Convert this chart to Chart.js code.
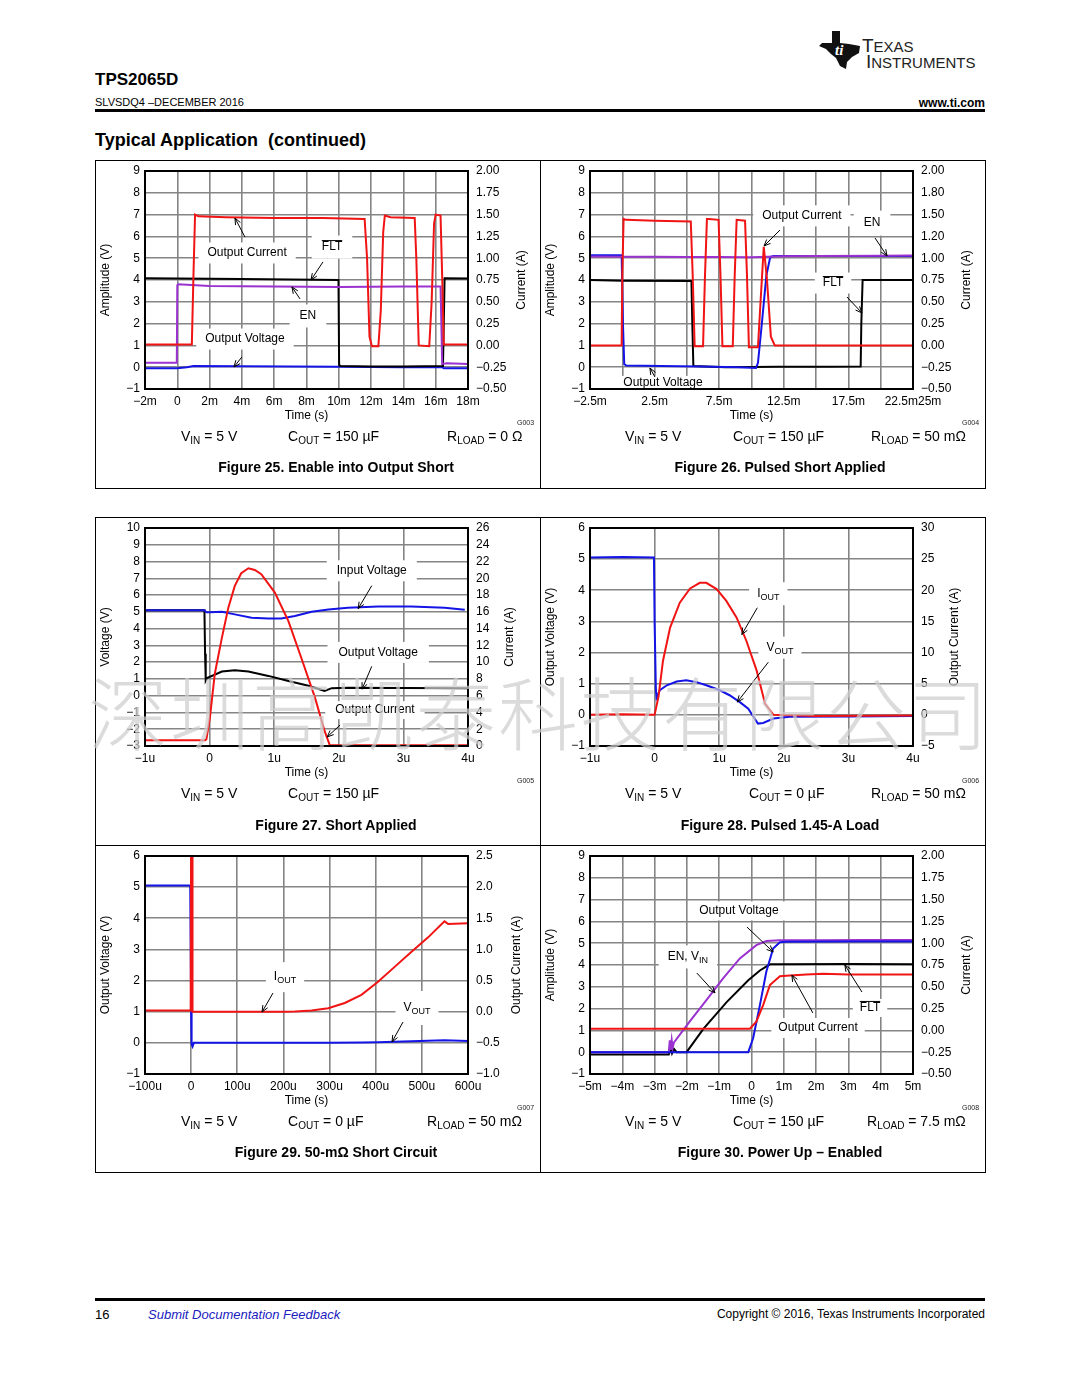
<!DOCTYPE html>
<html>
<head>
<meta charset="utf-8">
<title>TPS2065D - Typical Application (continued)</title>
<script src="https://cdn.jsdelivr.net/npm/chart.js@4.4.1/dist/chart.umd.min.js"></script>
<style>
  body { margin: 0; background: #fff; color: #000; font-family: "Liberation Sans", Arial, sans-serif; }
  #page { position: relative; width: 1080px; height: 1398px; overflow: hidden; background: #fff; }
  .t { position: absolute; white-space: nowrap; line-height: 1; }
  canvas { position: absolute; }
  .frame { position: absolute; border: 1px solid #000; box-sizing: border-box; }
  .rule { position: absolute; background: #000; }
  .cond { font-size: 14px; }
  .cond sub { font-size: 10px; vertical-align: -3px; line-height: 0; }
  .fig { font-size: 14px; font-weight: bold; width: 440px; text-align: center; }
  .gcode { font-size: 7px; color: #222; }
  #mark { position: absolute; left: 88px; top: 669px; font-family: "Noto Sans CJK SC", sans-serif; font-weight: 300;
          font-size: 80px; line-height: 80px; letter-spacing: 2px; color: rgba(205,205,205,0.72); white-space: nowrap; z-index: 5; }
</style>
</head>
<body>
<div id="page">
  <!-- header -->
  <svg class="t" style="left:819px;top:31px" width="42" height="38" viewBox="0 0 42 38">
    <polygon points="13,0 21,0 21,12 30,13 41,15 40,22 33,26 28,31 27,38 21,35 17,27 12,23 7,18 0,15 3,12 13,12" fill="#111"/>
    <text x="16" y="24" font-family="Liberation Serif, serif" font-style="italic" font-weight="bold" font-size="15" fill="#fff">ti</text>
  </svg>
  <div class="t" style="left:862px;top:36px;font-size:19px;color:#222">T<span style="font-size:15px">EXAS</span></div>
  <div class="t" style="left:866px;top:52px;font-size:19px;color:#222">I<span style="font-size:15px">NSTRUMENTS</span></div>
  <div class="t" style="left:95px;top:71px;font-size:17px;font-weight:bold">TPS2065D</div>
  <div class="t" style="left:95px;top:97px;font-size:11px">SLVSDQ4 –DECEMBER 2016</div>
  <div class="t" style="right:95px;top:97px;font-size:12px;font-weight:bold">www.ti.com</div>
  <div class="rule" style="left:95px;top:109px;width:890px;height:3px"></div>
  <div class="t" style="left:95px;top:131px;font-size:18px;font-weight:bold">Typical Application&nbsp; (continued)</div>

  <!-- panel frames -->
  <div class="frame" style="left:95px;top:160px;width:891px;height:329px"></div>
  <div class="rule" style="left:540px;top:160px;width:1px;height:329px"></div>
  <div class="frame" style="left:95px;top:517px;width:891px;height:656px"></div>
  <div class="rule" style="left:95px;top:845px;width:890px;height:1px"></div>
  <div class="rule" style="left:540px;top:517px;width:1px;height:656px"></div>

  <canvas id="c25" width="443" height="270" style="left:96px;top:161px"></canvas>
  <canvas id="c26" width="443" height="270" style="left:541px;top:161px"></canvas>
  <canvas id="c27" width="443" height="270" style="left:96px;top:518px"></canvas>
  <canvas id="c28" width="443" height="270" style="left:541px;top:518px"></canvas>
  <canvas id="c29" width="443" height="270" style="left:96px;top:846px"></canvas>
  <canvas id="c30" width="443" height="270" style="left:541px;top:846px"></canvas>

  <!-- row 1 captions -->
  <div class="t gcode" style="left:517px;top:419px">G003</div>
  <div class="t cond" style="left:181px;top:429px">V<sub>IN</sub> = 5 V</div>
  <div class="t cond" style="left:288px;top:429px">C<sub>OUT</sub> = 150 µF</div>
  <div class="t cond" style="left:447px;top:429px">R<sub>LOAD</sub> = 0 Ω</div>
  <div class="t fig" style="left:116px;top:460px">Figure 25. Enable into Output Short</div>
  <div class="t gcode" style="left:962px;top:419px">G004</div>
  <div class="t cond" style="left:625px;top:429px">V<sub>IN</sub> = 5 V</div>
  <div class="t cond" style="left:733px;top:429px">C<sub>OUT</sub> = 150 µF</div>
  <div class="t cond" style="left:871px;top:429px">R<sub>LOAD</sub> = 50 mΩ</div>
  <div class="t fig" style="left:560px;top:460px">Figure 26. Pulsed Short Applied</div>

  <!-- row 2 captions -->
  <div class="t gcode" style="left:517px;top:777px">G005</div>
  <div class="t cond" style="left:181px;top:786px">V<sub>IN</sub> = 5 V</div>
  <div class="t cond" style="left:288px;top:786px">C<sub>OUT</sub> = 150 µF</div>
  <div class="t fig" style="left:116px;top:818px">Figure 27. Short Applied</div>
  <div class="t gcode" style="left:962px;top:777px">G006</div>
  <div class="t cond" style="left:625px;top:786px">V<sub>IN</sub> = 5 V</div>
  <div class="t cond" style="left:749px;top:786px">C<sub>OUT</sub> = 0 µF</div>
  <div class="t cond" style="left:871px;top:786px">R<sub>LOAD</sub> = 50 mΩ</div>
  <div class="t fig" style="left:560px;top:818px">Figure 28. Pulsed 1.45-A Load</div>

  <!-- row 3 captions -->
  <div class="t gcode" style="left:517px;top:1104px">G007</div>
  <div class="t cond" style="left:181px;top:1114px">V<sub>IN</sub> = 5 V</div>
  <div class="t cond" style="left:288px;top:1114px">C<sub>OUT</sub> = 0 µF</div>
  <div class="t cond" style="left:427px;top:1114px">R<sub>LOAD</sub> = 50 mΩ</div>
  <div class="t fig" style="left:116px;top:1145px">Figure 29. 50-mΩ Short Circuit</div>
  <div class="t gcode" style="left:962px;top:1104px">G008</div>
  <div class="t cond" style="left:625px;top:1114px">V<sub>IN</sub> = 5 V</div>
  <div class="t cond" style="left:733px;top:1114px">C<sub>OUT</sub> = 150 µF</div>
  <div class="t cond" style="left:867px;top:1114px">R<sub>LOAD</sub> = 7.5 mΩ</div>
  <div class="t fig" style="left:560px;top:1145px">Figure 30. Power Up – Enabled</div>

  <!-- footer -->
  <div class="rule" style="left:95px;top:1298px;width:890px;height:3px"></div>
  <div class="t" style="left:95px;top:1308px;font-size:13px">16</div>
  <div class="t" style="left:148px;top:1308px;font-size:13px;font-style:italic;color:#2020c0">Submit Documentation Feedback</div>
  <div class="t" style="right:95px;top:1308px;font-size:12px">Copyright © 2016, Texas Instruments Incorporated</div>

  <div id="mark">深圳高凯泰科技有限公司</div>
</div>

<script>
// ---- Figure 25: enable into output short (time in ms) ----
const fig25TimeTicks = [-2, 0, 2, 4, 6, 8, 10, 12, 14, 16, 18];
const fig25VoltTicks = [-1, 0, 1, 2, 3, 4, 5, 6, 7, 8, 9];
const fig25AmpTicks = [-0.5, -0.25, 0, 0.25, 0.5, 0.75, 1.0, 1.25, 1.5, 1.75, 2.0];
const fig25CurrentTime = [-2, 0.9, 1.0, 1.1, 1.3, 3, 6, 9, 11.6, 11.75, 11.9, 12.05, 12.45, 12.6, 12.75, 12.85, 13.2, 14.7, 14.8, 14.95, 15.6, 15.75, 15.9, 16.0, 16.3, 16.4, 16.5, 18];
const fig25Current = [0.01, 0.01, 0.8, 1.5, 1.48, 1.47, 1.46, 1.46, 1.45, 1.0, 0.1, -0.01, -0.01, 0.4, 1.3, 1.49, 1.47, 1.46, 1.0, 0.0, -0.01, 0.5, 1.4, 1.5, 1.49, 0.8, 0.01, 0.01];
const fig25FltTime = [-2, 4, 9.98, 10.02, 10.1, 12, 14, 16.45, 16.5, 16.55, 18];
const fig25Flt = [4.08, 4.05, 4.0, 0.1, 0.06, 0.03, 0.03, 0.05, 2.0, 4.08, 4.07];
const fig25EnTime = [-2, -0.03, 0.0, 0.05, 2, 6, 10, 14, 16.3, 16.35, 16.4, 16.7, 18];
const fig25En = [0.2, 0.2, 3.75, 3.8, 3.72, 3.7, 3.68, 3.7, 3.7, 2.0, 0.15, 0.18, 0.15];
const fig25VoutTime = [-2, 0, 0.6, 1.0, 4, 10, 14, 16.4, 16.5, 18];
const fig25Vout = [-0.05, -0.05, 0.0, 0.05, 0.04, 0.02, 0.0, 0.0, -0.05, -0.05];

// ---- Figure 26: pulsed short applied (ms) ----
const fig26TimeTicks = [-2.5, 0, 2.5, 5, 7.5, 10, 12.5, 15, 17.5, 20, 22.5];
const fig26TimeLabels = ['\u22122.5m', '', '2.5m', '', '7.5m', '', '12.5m', '', '17.5m', '', '22.5m25m'];
const fig26AmpLabels = ['\u22120.50', '\u22120.25', '0.00', '0.25', '0.50', '0.75', '1.00', '1.20', '1.50', '1.80', '2.00'];
const fig26CurrentTime = [-2.5, -0.05, 0.0, 0.1, 0.3, 2.5, 5.3, 5.45, 5.6, 6.25, 6.4, 6.55, 6.7, 7.45, 7.6, 7.75, 8.55, 8.7, 8.85, 9.5, 9.65, 9.8, 10.5, 10.7, 10.95, 11.2, 11.5, 11.8, 15, 22.5];
const fig26Current = [0, 0, 0.8, 1.45, 1.44, 1.43, 1.42, 0.8, -0.01, -0.01, 0.8, 1.45, 1.45, 1.44, 0.8, -0.01, -0.01, 0.8, 1.44, 1.43, 0.8, -0.02, -0.02, 0.5, 1.13, 0.75, 0.1, 0, 0, 0];
const fig26VoutTime = [-2.5, -0.05, 0.05, 0.15, 0.3, 3, 6, 9, 10.35, 10.5, 10.8, 11.15, 11.45, 11.7, 22.5];
const fig26Vout = [5.14, 5.14, 2.0, 0.15, 0.08, 0.05, 0.03, 0.0, -0.04, 0.2, 2.0, 4.2, 5.05, 5.1, 5.1];
const fig26EnTime = [-2.5, 0, 2.5, 5, 7.5, 10, 12.5, 15, 20, 22.5];
const fig26En = [5.08, 5.07, 5.07, 5.06, 5.05, 5.04, 5.09, 5.1, 5.11, 5.12];
const fig26FltTime = [-2.5, 0, 5.35, 5.42, 5.5, 8, 12, 16, 18.45, 18.5, 18.6, 22.5];
const fig26Flt = [4.0, 3.97, 3.95, 2.0, 0.05, 0.0, 0.02, 0.02, 0.03, 2.0, 4.0, 4.0];

// ---- Figure 27: short applied (µs) ----
const fig27TimeTicks = [-1, 0, 1, 2, 3, 4];
const fig27VoltTicks = [-3, -2, -1, 0, 1, 2, 3, 4, 5, 6, 7, 8, 9, 10];
const fig27AmpTicks = [0, 2, 4, 6, 8, 10, 12, 14, 16, 18, 20, 22, 24, 26];
const fig27VinTime = [-1, -0.08, -0.05, 0, 0.19, 0.39, 0.65, 0.91, 1.11, 1.32, 1.58, 1.84, 2.14, 2.61, 3.12, 3.64, 3.95];
const fig27Vin = [5.1, 5.1, 4.97, 4.97, 5.0, 4.85, 4.65, 4.6, 4.6, 4.75, 5.0, 5.14, 5.24, 5.32, 5.32, 5.24, 5.12];
const fig27VoutTime = [-1, -0.08, -0.07, -0.06, -0.04, 0.19, 0.39, 0.60, 0.91, 1.22, 1.53, 1.78, 1.89, 2.14, 3.0, 4.0];
const fig27Vout = [5.1, 5.1, 2.5, 0.9, 1.05, 1.44, 1.52, 1.44, 1.18, 0.88, 0.59, 0.29, 0.45, 0.47, 0.46, 0.45];
const fig27CurrentTime = [-1, -0.07, -0.05, 0.005, 0.08, 0.19, 0.29, 0.39, 0.49, 0.60, 0.70, 0.80, 1.01, 1.22, 1.42, 1.63, 1.78, 1.86, 2.0, 4.0];
const fig27Current = [0.7, 0.7, 0.8, 3.4, 8.6, 12.9, 16.5, 19.1, 20.6, 21.2, 21.0, 20.5, 18.3, 14.9, 10.5, 5.8, 1.8, 0.1, 0.1, 0.1];

// ---- Figure 28: pulsed 1.45-A load (µs) ----
const fig28TimeTicks = [-1, 0, 1, 2, 3, 4];
const fig28VoltTicks = [-1, 0, 1, 2, 3, 4, 5, 6];
const fig28AmpTicks = [-5, 0, 5, 10, 15, 20, 25, 30];
const fig28VoutTime = [-1, -0.5, -0.01, 0.0, 0.02, 0.03, 0.08, 0.19, 0.34, 0.49, 0.65, 0.80, 1.01, 1.16, 1.32, 1.45, 1.53, 1.60, 1.68, 1.84, 2.09, 3.0, 4.0];
const fig28Vout = [5.05, 5.07, 5.05, 3.0, 0.8, 0.55, 0.79, 0.95, 1.07, 1.11, 1.05, 0.95, 0.79, 0.63, 0.41, 0.20, -0.06, -0.28, -0.26, -0.12, -0.06, -0.05, -0.04];
const fig28CurrentTime = [-1, -0.5, 0.0, 0.06, 0.13, 0.24, 0.39, 0.55, 0.70, 0.80, 0.96, 1.11, 1.27, 1.42, 1.58, 1.71, 1.84, 2.5, 4.0];
const fig28Current = [0, 0.1, 0, 2.9, 8.7, 14.0, 18.0, 20.3, 21.2, 21.2, 20.2, 18.3, 15.6, 11.9, 7.1, 1.8, 0, -0.2, -0.1];

// ---- Figure 29: 50-mΩ short circuit (µs) ----
const fig29TimeTicks = [-100, 0, 100, 200, 300, 400, 500, 600];
const fig29VoltTicks = [-1, 0, 1, 2, 3, 4, 5, 6];
const fig29AmpTicks = [-1.0, -0.5, 0, 0.5, 1.0, 1.5, 2.0, 2.5];
const fig29VoutTime = [-100, -2, 0, 1, 3, 6, 100, 200, 300, 369, 405, 477, 549, 600];
const fig29Vout = [5.05, 5.05, 1.0, -0.05, -0.12, 0.0, 0.0, 0.0, 0.0, 0.01, 0.02, 0.05, 0.08, 0.06];
const fig29CurrentTime = [-100, -1, 0, 2, 3, 5, 100, 200, 225, 261, 297, 333, 369, 405, 441, 477, 513, 549, 557, 600];
const fig29Current = [0.02, 0.02, 3, 3, 0, 0, 0, 0, 0.003, 0.02, 0.055, 0.14, 0.27, 0.48, 0.72, 0.96, 1.19, 1.45, 1.41, 1.42];

// ---- Figure 30: power up, enabled (ms) ----
const fig30TimeTicks = [-5, -4, -3, -2, -1, 0, 1, 2, 3, 4, 5];
const fig30EnTime = [-5, -2.56, -2.53, -2.5, -2.47, -2.44, -2.4, -1.91, -1.39, -0.88, -0.36, 0.15, 0.46, 0.88, 2, 3.5, 5];
const fig30En = [0, 0, 0.55, 0.1, 0.55, 0.2, 0.45, 1.41, 2.4, 3.39, 4.30, 4.91, 5.1, 5.14, 5.13, 5.15, 5.15];
const fig30FltTime = [-5, -2.56, -2.5, -2.46, -2.4, -2.32, -2.01, -1.49, -0.77, -0.1, 0.26, 0.57, 1.0, 3.0, 5.0];
const fig30Flt = [-0.1, -0.1, 0.2, -0.05, 0.15, 0.0, 0.0, 1.07, 2.3, 3.3, 3.75, 4.03, 4.03, 4.05, 4.03];
const fig30VoutTime = [-5, -0.1, 0.05, 0.26, 0.46, 0.67, 0.88, 1.08, 3, 5];
const fig30Vout = [0, 0, 0.64, 2.16, 3.7, 4.76, 5.04, 5.07, 5.08, 5.08];
const fig30CurrentTime = [-5, -0.05, 0.15, 0.36, 0.57, 0.88, 1.19, 1.70, 2.22, 3.0, 4.0, 5.0];
const fig30Current = [0.02, 0.02, 0.10, 0.29, 0.52, 0.62, 0.63, 0.64, 0.65, 0.64, 0.64, 0.64];

const RED = '#f01414', BLUE = '#1414e6', PURPLE = '#9a32cf', BLACK = '#000';
const GRID = '#858585';
const FONT = '"Liberation Sans", Arial, Helvetica, sans-serif';
const MINUS = '\u2212';

Chart.defaults.font.family = FONT;
Chart.defaults.font.size = 12;
Chart.defaults.color = '#000';

const signed = (v, d) => (v < 0 ? MINUS : '') + (d == null ? String(Math.abs(v)) : Math.abs(v).toFixed(d));
const timeLabels = (ticks, unit) => ticks.map(v => v === 0 ? '0' : signed(v) + unit);

// labels with white boxes, arrows, plot frame, and both side titles
const notesPlugin = {
  id: 'notes',
  beforeDatasetsDraw(chart, args, opts) {
    const { ctx, scales: { x, y } } = chart;
    ctx.save();
    for (const n of opts.items || []) {
      ctx.font = '12px ' + FONT;
      const mw = ctx.measureText(n.text).width;
      ctx.font = '9px ' + FONT;
      const sw = n.sub ? ctx.measureText(n.sub).width : 0;
      const w = mw + sw;
      const cx = x.getPixelForValue(n.x), cy = y.getPixelForValue(n.y);
      const pw = n.pw ?? 9, h = n.h ?? 21;
      ctx.fillStyle = '#fff';
      ctx.fillRect(cx - w / 2 - pw, cy - h / 2, w + 2 * pw, h);
      ctx.fillStyle = '#000';
      ctx.textAlign = 'left';
      ctx.textBaseline = 'middle';
      ctx.font = '12px ' + FONT;
      const left = cx - w / 2;
      ctx.fillText(n.text, left, cy);
      if (n.over) {
        ctx.strokeStyle = '#000';
        ctx.lineWidth = 1;
        ctx.beginPath();
        ctx.moveTo(left, cy - 6.5);
        ctx.lineTo(left + mw, cy - 6.5);
        ctx.stroke();
      }
      if (n.sub) {
        ctx.font = '9px ' + FONT;
        ctx.fillText(n.sub, left + mw, cy + 3.5);
      }
    }
    ctx.restore();
  },
  afterDatasetsDraw(chart, args, opts) {
    const { ctx, chartArea: a, scales: { x, y } } = chart;
    ctx.save();
    ctx.strokeStyle = '#000';
    ctx.lineWidth = 1;
    for (const n of opts.items || []) {
      if (!n.arrow) continue;
      const x1 = x.getPixelForValue(n.arrow[0]), y1 = y.getPixelForValue(n.arrow[1]);
      const x2 = x.getPixelForValue(n.arrow[2]), y2 = y.getPixelForValue(n.arrow[3]);
      const ang = Math.atan2(y2 - y1, x2 - x1);
      ctx.beginPath();
      ctx.moveTo(x1, y1);
      ctx.lineTo(x2, y2);
      ctx.moveTo(x2 - 7 * Math.cos(ang - 0.4), y2 - 7 * Math.sin(ang - 0.4));
      ctx.lineTo(x2, y2);
      ctx.lineTo(x2 - 7 * Math.cos(ang + 0.4), y2 - 7 * Math.sin(ang + 0.4));
      ctx.stroke();
    }
    ctx.lineWidth = 2;
    ctx.strokeRect(a.left, a.top, a.right - a.left, a.bottom - a.top);
    ctx.restore();
  },
  afterDraw(chart, args, opts) {
    const { ctx, chartArea: a } = chart;
    ctx.save();
    ctx.font = '12px ' + FONT;
    ctx.fillStyle = '#000';
    ctx.textAlign = 'center';
    ctx.textBaseline = 'middle';
    [[opts.left, opts.leftX], [opts.right, opts.rightX]].forEach(([txt, px]) => {
      ctx.save();
      ctx.translate(px, (a.top + a.bottom) / 2);
      ctx.rotate(-Math.PI / 2);
      ctx.fillText(txt, 0, 0);
      ctx.restore();
    });
    ctx.restore();
  }
};

// fixed box sizes so every plot area lands where the page has it
const fixWidth = w => s => { s.width = w; s.paddingTop = 0; s.paddingBottom = 0; };

function scope(id, c) {
  const first = a => a[0], last = a => a[a.length - 1];
  return new Chart(document.getElementById(id), {
    type: 'line',
    data: {
      datasets: c.series.map(s => ({
        data: s.t.map((t, i) => ({ x: t, y: s.v[i] })),
        yAxisID: s.axis,
        borderColor: s.color,
        borderWidth: 2,
        pointRadius: 0,
        tension: 0,
        fill: false
      }))
    },
    options: {
      responsive: false,
      animation: false,
      events: [],
      layout: { padding: { top: 10, left: 0, right: 0, bottom: 0 } },
      plugins: {
        legend: { display: false },
        tooltip: { enabled: false },
        notes: { items: c.notes, left: c.leftTitle, leftX: 10, right: c.rightTitle, rightX: c.rightX }
      },
      scales: {
        x: {
          type: 'linear', min: first(c.xTicks), max: last(c.xTicks),
          afterBuildTicks: s => { s.ticks = c.xTicks.map(v => ({ value: v })); },
          afterFit: s => { s.height = 42; s.paddingLeft = 0; s.paddingRight = 0; },
          grid: { color: GRID, lineWidth: 1.6, drawTicks: false },
          border: { display: false },
          ticks: { autoSkip: false, maxRotation: 0, padding: 5, callback: (v, i) => c.xLabels[i] },
          title: { display: true, text: 'Time (s)', padding: { top: 2, bottom: 8 } }
        },
        y: {
          position: 'left', min: first(c.yTicks), max: last(c.yTicks),
          afterBuildTicks: s => { s.ticks = c.yTicks.map(v => ({ value: v })); },
          afterFit: fixWidth(49),
          grid: { color: GRID, lineWidth: 1.6, drawTicks: false },
          border: { display: false },
          ticks: { autoSkip: false, padding: 5, callback: (v, i) => c.yLabels[i] }
        },
        y1: {
          position: 'right', min: first(c.y1Ticks), max: last(c.y1Ticks),
          afterBuildTicks: s => { s.ticks = c.y1Ticks.map(v => ({ value: v })); },
          afterFit: fixWidth(71),
          grid: { display: false, drawTicks: false },
          border: { display: false },
          ticks: { autoSkip: false, padding: 8, callback: (v, i) => c.y1Labels[i] }
        }
      }
    },
    plugins: [notesPlugin]
  });
}

scope('c25', {
  xTicks: fig25TimeTicks, xLabels: timeLabels(fig25TimeTicks, 'm'),
  yTicks: fig25VoltTicks, yLabels: fig25VoltTicks.map(v => signed(v)),
  y1Ticks: fig25AmpTicks, y1Labels: fig25AmpTicks.map(v => signed(v, 2)),
  leftTitle: 'Amplitude (V)', rightTitle: 'Current (A)', rightX: 426,
  series: [
    { t: fig25CurrentTime, v: fig25Current, axis: 'y1', color: RED },
    { t: fig25EnTime, v: fig25En, axis: 'y', color: PURPLE },
    { t: fig25FltTime, v: fig25Flt, axis: 'y', color: BLACK },
    { t: fig25VoutTime, v: fig25Vout, axis: 'y', color: BLUE }
  ],
  notes: [
    { x: 4.32, y: 5.24, text: 'Output Current', arrow: [4.19, 5.97, 3.57, 6.84] },
    { x: 9.58, y: 5.51, text: 'FLT', over: true, pw: 10, h: 23, arrow: [9.02, 4.83, 8.28, 4.0] },
    { x: 8.09, y: 2.35, text: 'EN', pw: 10, h: 23, arrow: [7.6, 3.13, 7.1, 3.68] },
    { x: 4.19, y: 1.29, text: 'Output Voltage', arrow: [4.0, 0.47, 3.51, 0.01] }
  ]
});

scope('c26', {
  xTicks: fig26TimeTicks, xLabels: fig26TimeLabels,
  yTicks: fig25VoltTicks, yLabels: fig25VoltTicks.map(v => signed(v)),
  y1Ticks: fig25AmpTicks, y1Labels: fig26AmpLabels,
  leftTitle: 'Amplitude (V)', rightTitle: 'Current (A)', rightX: 426,
  series: [
    { t: fig26CurrentTime, v: fig26Current, axis: 'y1', color: RED },
    { t: fig26EnTime, v: fig26En, axis: 'y', color: PURPLE },
    { t: fig26VoutTime, v: fig26Vout, axis: 'y', color: BLUE },
    { t: fig26FltTime, v: fig26Flt, axis: 'y', color: BLACK }
  ],
  notes: [
    { x: 13.9, y: 6.94, text: 'Output Current', arrow: [12.2, 6.29, 10.97, 5.56] },
    { x: 19.33, y: 6.61, text: 'EN', pw: 10, h: 25, arrow: [19.56, 5.93, 20.49, 5.1] },
    { x: 16.31, y: 3.86, text: 'FLT', over: true, pw: 8, arrow: [17.39, 3.22, 18.55, 2.49] },
    { x: 3.15, y: -0.72, text: 'Output Voltage', h: 14, arrow: [2.53, -0.45, 2.14, -0.04] }
  ]
});

scope('c27', {
  xTicks: fig27TimeTicks, xLabels: timeLabels(fig27TimeTicks, 'u'),
  yTicks: fig27VoltTicks, yLabels: fig27VoltTicks.map(v => signed(v)),
  y1Ticks: fig27AmpTicks, y1Labels: fig27AmpTicks.map(v => signed(v)),
  leftTitle: 'Voltage (V)', rightTitle: 'Current (A)', rightX: 414,
  series: [
    { t: fig27CurrentTime, v: fig27Current, axis: 'y1', color: RED },
    { t: fig27VinTime, v: fig27Vin, axis: 'y', color: BLUE },
    { t: fig27VoutTime, v: fig27Vout, axis: 'y', color: BLACK }
  ],
  notes: [
    { x: 2.51, y: 7.45, text: 'Input Voltage', pw: 10, arrow: [2.51, 6.56, 2.30, 5.19] },
    { x: 2.61, y: 2.58, text: 'Output Voltage', pw: 11, arrow: [2.51, 1.75, 2.36, 0.39] },
    { x: 2.56, y: -0.86, text: 'Output Current', pw: 10, h: 18, arrow: [2.02, -1.75, 1.82, -2.46] }
  ]
});

scope('c28', {
  xTicks: fig28TimeTicks, xLabels: timeLabels(fig28TimeTicks, 'u'),
  yTicks: fig28VoltTicks, yLabels: fig28VoltTicks.map(v => signed(v)),
  y1Ticks: fig28AmpTicks, y1Labels: fig28AmpTicks.map(v => signed(v)),
  leftTitle: 'Output Voltage (V)', rightTitle: 'Output Current (A)', rightX: 414,
  series: [
    { t: fig28CurrentTime, v: fig28Current, axis: 'y1', color: RED },
    { t: fig28VoutTime, v: fig28Vout, axis: 'y', color: BLUE }
  ],
  notes: [
    { x: 1.76, y: 3.89, text: 'I', sub: 'OUT', pw: 8, h: 23, arrow: [1.59, 3.44, 1.35, 2.58] },
    { x: 1.94, y: 2.16, text: 'V', sub: 'OUT', pw: 8, h: 22, arrow: [1.76, 1.69, 1.28, 0.41] }
  ]
});

scope('c29', {
  xTicks: fig29TimeTicks, xLabels: timeLabels(fig29TimeTicks, 'u'),
  yTicks: fig29VoltTicks, yLabels: fig29VoltTicks.map(v => signed(v)),
  y1Ticks: fig29AmpTicks, y1Labels: fig29AmpTicks.map(v => signed(v, 1)),
  leftTitle: 'Output Voltage (V)', rightTitle: 'Output Current (A)', rightX: 421,
  series: [
    { t: fig29CurrentTime, v: fig29Current, axis: 'y1', color: RED },
    { t: fig29VoutTime, v: fig29Vout, axis: 'y', color: BLUE }
  ],
  notes: [
    { x: 203.4, y: 2.11, text: 'I', sub: 'OUT', pw: 8, h: 30, arrow: [177.4, 1.60, 153.6, 0.99] },
    { x: 489.5, y: 1.12, text: 'V', sub: 'OUT', pw: 8, h: 34, arrow: [459.2, 0.67, 435.3, 0.03] }
  ]
});

scope('c30', {
  xTicks: fig30TimeTicks, xLabels: timeLabels(fig30TimeTicks, 'm'),
  yTicks: fig25VoltTicks, yLabels: fig25VoltTicks.map(v => signed(v)),
  y1Ticks: fig25AmpTicks, y1Labels: fig25AmpTicks.map(v => signed(v, 2)),
  leftTitle: 'Amplitude (V)', rightTitle: 'Current (A)', rightX: 426,
  series: [
    { t: fig30CurrentTime, v: fig30Current, axis: 'y1', color: RED },
    { t: fig30VoutTime, v: fig30Vout, axis: 'y', color: BLUE },
    { t: fig30EnTime, v: fig30En, axis: 'y', color: PURPLE },
    { t: fig30FltTime, v: fig30Flt, axis: 'y', color: BLACK }
  ],
  notes: [
    { x: -0.39, y: 6.48, text: 'Output Voltage', pw: 10, h: 19, arrow: [-0.14, 5.74, 0.67, 4.6] },
    { x: -1.97, y: 4.37, text: 'EN, V', sub: 'IN', pw: 9, h: 23, arrow: [-1.69, 3.63, -1.13, 2.72] },
    { x: 3.67, y: 2.03, text: 'FLT', over: true, pw: 7, h: 18, arrow: [3.42, 2.76, 2.89, 4.0] },
    { x: 2.06, y: 1.11, text: 'Output Current', pw: 7, h: 20, arrow: [1.90, 1.80, 1.25, 3.54] }
  ]
});
</script>
</body>
</html>
